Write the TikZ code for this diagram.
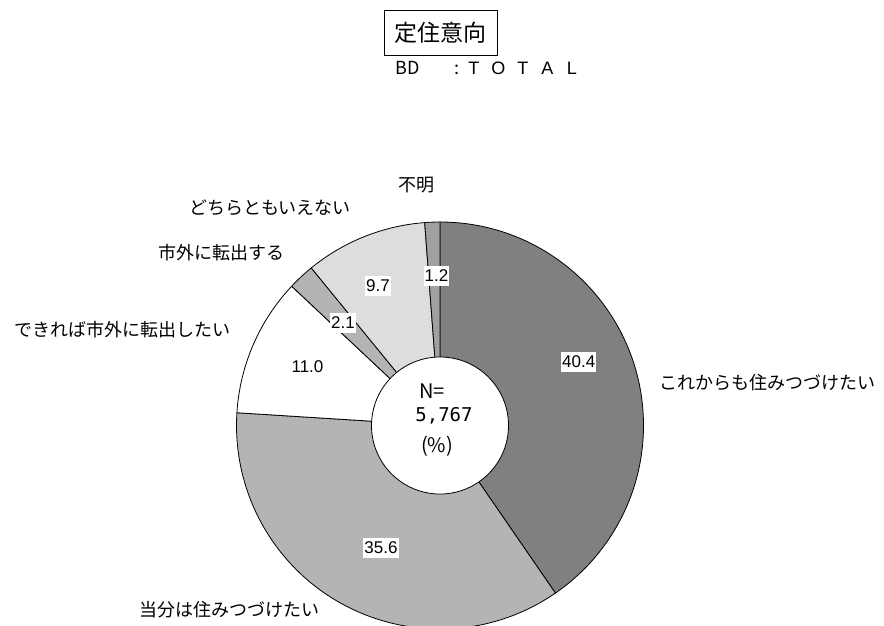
\documentclass[tikz,border=0pt]{standalone}
\usepackage{fontspec}
\setmainfont{Noto Sans CJK JP}
\newfontfamily\numfont{Liberation Sans}
\newfontfamily\monofont{DejaVu Sans Mono}
\begin{document}
\begin{tikzpicture}[x=1pt,y=1pt,
  catlabel/.style={inner sep=0pt, font=\fontsize{18}{20}\selectfont},
  vallabel/.style={fill=white, inner xsep=1pt, inner ysep=0pt, minimum height=19.5pt, font=\numfont\fontsize{17}{18}\selectfont},
  slice/.style={draw=black, line width=0.8pt, line join=round},
  centertext/.style={inner sep=0pt, font=\fontsize{20}{22}\selectfont}]
\useasboundingbox (0,0) rectangle (884,-625);
\def\R{203.5}
\coordinate (c) at (440,-425.5);
% slices (clockwise from top)
\filldraw[slice, fill={rgb,255:red,128;green,128;blue,128}] (c) -- ++(90:\R) arc[start angle=90, end angle=-55.44, radius=\R] -- cycle;
\filldraw[slice, fill={rgb,255:red,180;green,180;blue,180}] (c) -- ++(-55.44:\R) arc[start angle=-55.44, end angle=-183.6, radius=\R] -- cycle;
\filldraw[slice, fill=white] (c) -- ++(-183.6:\R) arc[start angle=-183.6, end angle=-223.2, radius=\R] -- cycle;
\filldraw[slice, fill={rgb,255:red,180;green,180;blue,180}] (c) -- ++(-223.2:\R) arc[start angle=-223.2, end angle=-230.76, radius=\R] -- cycle;
\filldraw[slice, fill={rgb,255:red,221;green,221;blue,221}] (c) -- ++(-230.76:\R) arc[start angle=-230.76, end angle=-265.68, radius=\R] -- cycle;
\filldraw[slice, fill={rgb,255:red,160;green,160;blue,160}] (c) -- ++(-265.68:\R) arc[start angle=-265.68, end angle=-270, radius=\R] -- cycle;
% centre hole
\node[draw=black, line width=0.8pt, fill=white, circle, minimum size=137pt, inner sep=0pt] (hole) at (c) {};
\node[centertext] (nlab) at (432,-391) {N=};
\node[centertext, font=\monofont\fontsize{19}{21}\selectfont] (nval) at (444,-415.5) {5,767};
\node[centertext] (pct) at (437,-446) {(\%)};
% value labels
\node[vallabel] (v1) at (578.7,-362) {40.4};
\node[vallabel] (v2) at (381,-548) {35.6};
\node[vallabel, fill=none] (v3) at (307.5,-367) {11.0};
\node[vallabel] (v4) at (343,-323) {2.1};
\node[vallabel] (v5) at (378,-286) {9.7};
\node[vallabel] (v6) at (436.5,-276) {1.2};
% category labels
\node[catlabel] (l1) at (767,-383) {これからも住みつづけたい};
\node[catlabel] (l2) at (229,-610) {当分は住みつづけたい};
\node[catlabel] (l3) at (122,-330) {できれば市外に転出したい};
\node[catlabel] (l4) at (221,-253) {市外に転出する};
\node[catlabel] (l5) at (270,-208) {どちらともいえない};
\node[catlabel] (l6) at (416,-185) {不明};
% title
\node[draw=black, line width=0.8pt, minimum width=113pt, minimum height=45pt, inner sep=0pt, font=\fontsize{23}{25}\selectfont] (title) at (440.5,-32.5) {定住意向};
\node[anchor=west, inner sep=0pt, font=\fontsize{18}{20}\selectfont] (sub) at (395,-68.5)
  {\makebox[57.5pt][l]{BD}\makebox[9pt]{:}\makebox[24.5pt]{\numfont T}\makebox[24.5pt]{\numfont O}\makebox[24.5pt]{\numfont T}\makebox[24.5pt]{\numfont A}\makebox[24.5pt]{\numfont L}};
\end{tikzpicture}
\end{document}
